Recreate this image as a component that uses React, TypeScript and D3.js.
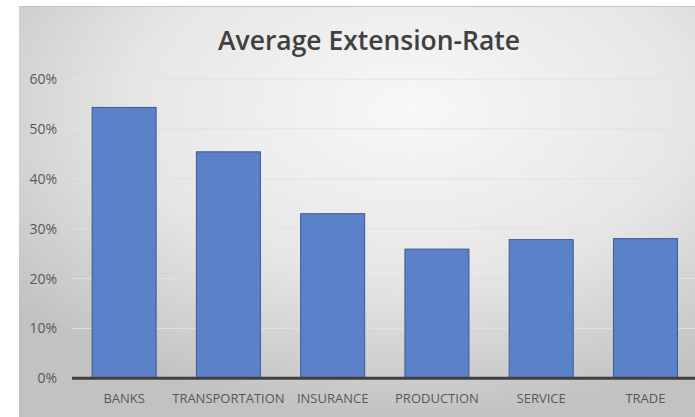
import React from "react";
import * as d3 from "d3";

const categories: string[] = ["BANKS", "TRANSPORTATION", "INSURANCE", "PRODUCTION", "SERVICE", "TRADE"];
const values: number[] = [0.543, 0.454, 0.330, 0.259, 0.278, 0.280];
const yTicks: number[] = [0, 0.1, 0.2, 0.3, 0.4, 0.5, 0.6];
const title = "Average Extension-Rate";

const W = 695;
const H = 417;

export default function App() {
  const x = d3
    .scaleBand<string>()
    .domain(categories)
    .range([72, 697.6])
    .paddingInner(0.386)
    .paddingOuter(0.193);
  const y = d3.scaleLinear().domain([0, 0.6]).range([378.3, 79]);
  const fmt = d3.format(".0%");

  return (
    <svg
      width={W}
      height={H}
      style={{ position: "absolute", left: 0, top: 0, display: "block" }}
      fontFamily="'Open Sans', sans-serif"
    >
      <defs>
        <radialGradient id="bg" cx="0.58" cy="0.25" r="0.75" fx="0.58" fy="0.25">
          <stop offset="0" stopColor="#f8f8f8" />
          <stop offset="0.55" stopColor="#e6e6e6" />
          <stop offset="1" stopColor="#c2c2c2" />
        </radialGradient>
      </defs>
      <rect x={0} y={0} width={W} height={H} fill="#ffffff" />
      <rect x={19} y={6} width={W - 19} height={H - 6} fill="url(#bg)" />
      <line x1={19} x2={W} y1={6.5} y2={6.5} stroke="#c4c4c4" strokeWidth={1} />

      <text
        x={369}
        y={50}
        textAnchor="middle"
        fontSize={27}
        fontWeight={600}
        fill="#404040"
        textLength={302}
        lengthAdjust="spacingAndGlyphs"
      >
        {title}
      </text>

      {yTicks.map((t) => (
        <g key={t}>
          {t > 0 && (
            <line x1={72} x2={W} y1={y(t)} y2={y(t)} stroke="#e2e2e2" strokeWidth={1} />
          )}
          <text
            x={57}
            y={y(t)}
            dy="0.36em"
            textAnchor="end"
            fontSize={14}
            fill="#595959"
          >
            {fmt(t)}
          </text>
        </g>
      ))}

      {categories.map((c, i) => (
        <rect
          key={c}
          x={x(c)}
          y={y(values[i])}
          width={x.bandwidth()}
          height={y(0) - y(values[i])}
          fill="#5b81c8"
          stroke="#3a5a94"
          strokeWidth={1}
        />
      ))}

      <line x1={72} x2={W} y1={y(0)} y2={y(0)} stroke="#404040" strokeWidth={3} />

      {categories.map((c) => (
        <text
          key={c}
          x={(x(c) as number) + x.bandwidth() / 2}
          y={403.3}
          textAnchor="middle"
          fontSize={13}
          fill="#595959"
        >
          {c}
        </text>
      ))}
    </svg>
  );
}
